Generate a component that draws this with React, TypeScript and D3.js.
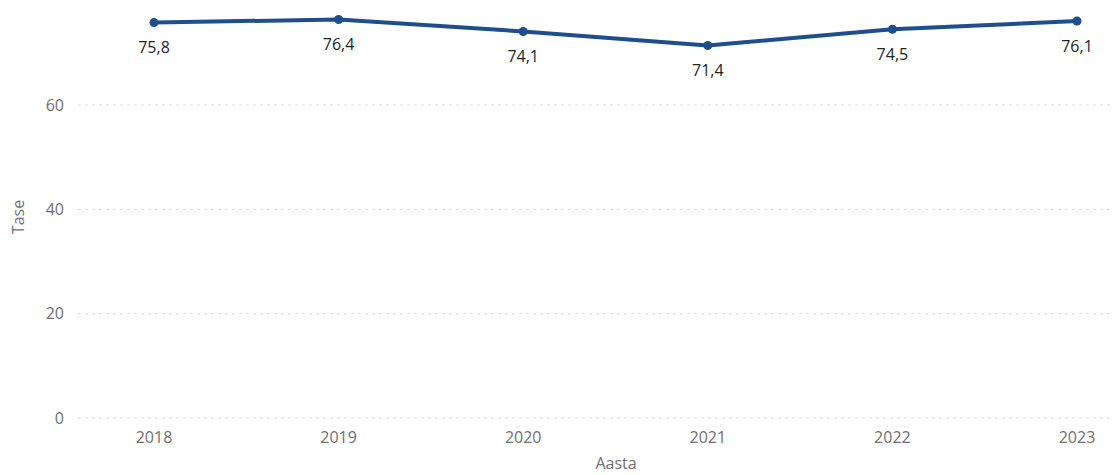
import React from "react";
import * as d3 from "d3";

const years: string[] = ["2018", "2019", "2020", "2021", "2022", "2023"];
const values: number[] = [75.8, 76.4, 74.1, 71.4, 74.5, 76.1];
const yTicks: number[] = [0, 20, 40, 60];

const W = 1113;
const H = 475;
const FONT = "'Segoe UI', 'Open Sans', 'DejaVu Sans', sans-serif";

export default function App() {
  const x = d3.scalePoint<string>().domain(years).range([154, 1077]);
  const y = d3.scaleLinear().domain([0, 60]).range([418, 105]);
  const line = d3
    .line<number>()
    .x((_, i) => x(years[i]) as number)
    .y((d) => y(d));
  const fmt = (v: number) => v.toFixed(1).replace(".", ",");

  return (
    <svg width={W} height={H} style={{ position: "absolute", left: 0, top: 0, display: "block" }}>
      <rect width={W} height={H} fill="#fff" />
      {yTicks.map((t) => (
        <g key={t}>
          <line x1={78} x2={1110} y1={y(t)} y2={y(t)} stroke="#d9d9d9" strokeDasharray="3,4" strokeWidth={1} />
          <text x={64} y={y(t)} dy="0.35em" textAnchor="end" fontFamily={FONT} fontSize={16} fill="#707070">
            {t}
          </text>
        </g>
      ))}
      {years.map((yr) => (
        <text key={yr} x={x(yr)} y={437} dy="0.35em" textAnchor="middle" fontFamily={FONT} fontSize={16} fill="#707070">
          {yr}
        </text>
      ))}
      <text x={616} y={463} dy="0.35em" textAnchor="middle" fontFamily={FONT} fontSize={16} fill="#707070">
        Aasta
      </text>
      <text
        transform={`translate(18,217) rotate(-90)`}
        dy="0.35em"
        textAnchor="middle"
        fontFamily={FONT}
        fontSize={16}
        fill="#707070"
      >
        Tase
      </text>
      <path d={line(values) || ""} fill="none" stroke="#1f4e8c" strokeWidth={4} strokeLinejoin="round" />
      {values.map((v, i) => (
        <g key={i}>
          <circle cx={x(years[i])} cy={y(v)} r={4.5} fill="#1f4e8c" />
          <text
            x={x(years[i])}
            y={y(v) + 25}
            dy="0.35em"
            textAnchor="middle"
            fontFamily={FONT}
            fontSize={16}
            fill="#252423"
          >
            {fmt(v)}
          </text>
        </g>
      ))}
    </svg>
  );
}
